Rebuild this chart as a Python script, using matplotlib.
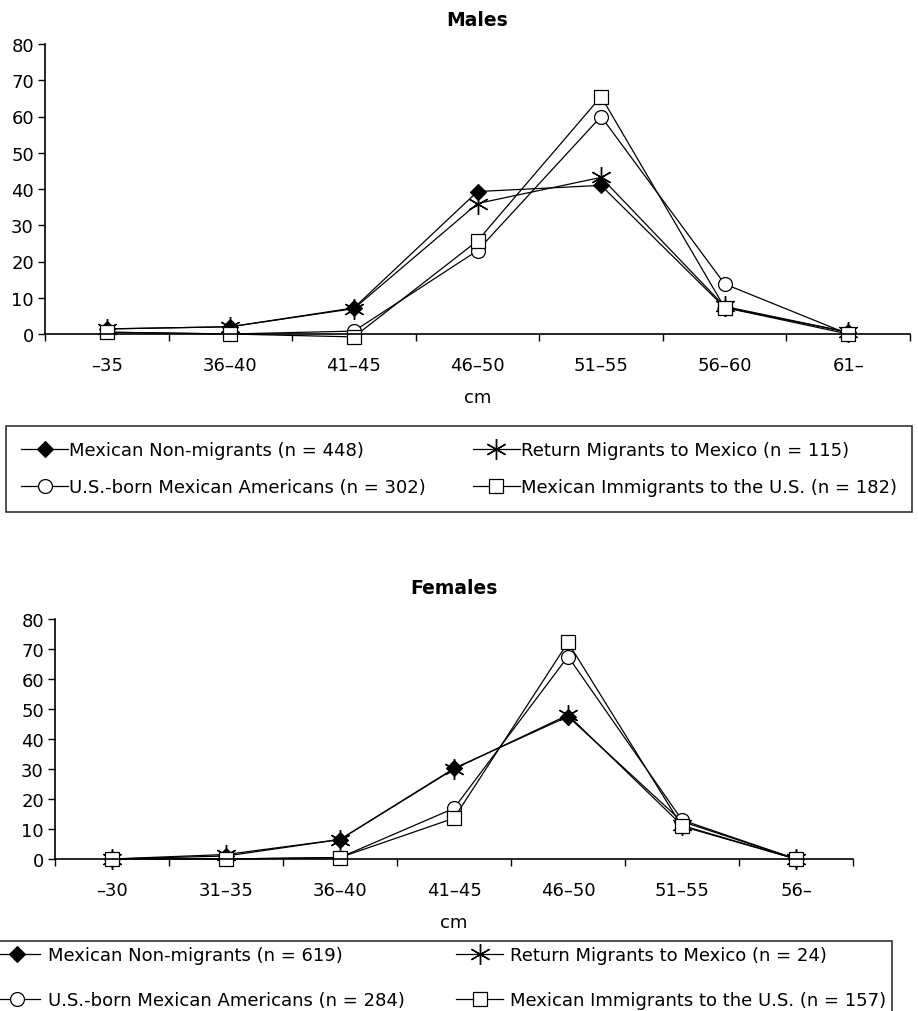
import matplotlib
matplotlib.use("Agg")
import matplotlib.pyplot as plt
from matplotlib.ticker import FixedLocator, NullFormatter

plt.rcParams['font.family'] = ['DejaVu Sans']

# ---------------- data ----------------
male_categories = ["\u201335", "36\u201340", "41\u201345", "46\u201350", "51\u201355", "56\u201360", "61\u2013"]
female_categories = ["\u201330", "31\u201335", "36\u201340", "41\u201345", "46\u201350", "51\u201355", "56\u2013"]

series_names_male = [
    "Mexican Non-migrants (n = 448)",
    "Return Migrants to Mexico (n = 115)",
    "U.S.-born Mexican Americans (n = 302)",
    "Mexican Immigrants to the U.S. (n = 182)",
]
series_names_female = [
    "Mexican Non-migrants (n = 619)",
    "Return Migrants to Mexico (n = 24)",
    "U.S.-born Mexican Americans (n = 284)",
    "Mexican Immigrants to the U.S. (n = 157)",
]

male_nonmigrants = [1.4, 2.0, 7.2, 39.3, 41.0, 7.3, 0.5]
male_return = [1.4, 2.0, 7.0, 36.0, 43.2, 7.6, 0.5]
male_usborn = [0.5, 0.0, 0.8, 23.0, 60.0, 13.8, 0.0]
male_immigrants = [0.5, 0.0, -0.8, 25.7, 65.5, 7.3, 0.0]

female_nonmigrants = [0.0, 1.0, 6.5, 30.2, 47.5, 12.5, 0.0]
female_return = [0.0, 1.5, 6.5, 30.0, 48.0, 11.2, 0.0]
female_usborn = [0.0, 0.0, 0.5, 16.9, 67.5, 13.0, 0.0]
female_immigrants = [0.0, 0.0, 0.5, 13.6, 72.2, 10.9, 0.0]

y_ticks = [0, 10, 20, 30, 40, 50, 60, 70, 80]

# ---------------- styles ----------------
FS = 13
styles = [
    dict(marker='D', markersize=8.5, markerfacecolor='black', markeredgecolor='black', markeredgewidth=0.8),
    dict(marker=(6, 2, 0), markersize=15, markerfacecolor='black', markeredgecolor='black', markeredgewidth=1.0),
    dict(marker='o', markersize=10, markerfacecolor='white', markeredgecolor='black', markeredgewidth=0.9),
    dict(marker='s', markersize=9.5, markerfacecolor='white', markeredgecolor='black', markeredgewidth=0.9),
]

fig = plt.figure(figsize=(9.18, 10.12), dpi=100)
W, H = 918.0, 1012.0


def px_axes(l, t, r, b):
    return fig.add_axes([l / W, 1 - b / H, (r - l) / W, (b - t) / H])


def draw_panel(ax, cats, data, names, title, title_pad):
    x = list(range(len(cats)))
    handles = []
    for vals, st, nm in zip(data, styles, names):
        h, = ax.plot(x, vals, color='black', linewidth=0.9, label=nm, clip_on=False, **st)
        handles.append(h)
    ax.set_xlim(-0.5, len(cats) - 0.5)
    ax.set_ylim(0, 80)
    ax.set_yticks(y_ticks)
    ax.set_xticks(x)
    ax.set_xticklabels(cats, fontsize=FS)
    ax.xaxis.set_minor_locator(FixedLocator([i - 0.5 for i in range(len(cats) + 1)]))
    ax.xaxis.set_minor_formatter(NullFormatter())
    ax.tick_params(axis='x', which='major', length=0, pad=16)
    ax.tick_params(axis='x', which='minor', length=5, width=1.0, direction='out')
    ax.tick_params(axis='y', length=5, width=1.0, direction='out', labelsize=FS, pad=3)
    for s in ['top', 'right']:
        ax.spines[s].set_visible(False)
    for s in ['left', 'bottom']:
        ax.spines[s].set_linewidth(1.2)
    ax.set_xlabel("cm", fontsize=FS, labelpad=10)
    ax.set_title(title, fontsize=13.5, fontweight='bold', pad=title_pad)
    return handles


ax1 = px_axes(45, 45, 910, 335)
h1 = draw_panel(ax1, male_categories,
                [male_nonmigrants, male_return, male_usborn, male_immigrants],
                series_names_male, "Males", 14)

ax2 = px_axes(55, 620, 853, 860)
h2 = draw_panel(ax2, female_categories,
                [female_nonmigrants, female_return, female_usborn, female_immigrants],
                series_names_female, "Females", 19)

# legend order: row1: nonmigrants, return ; row2: usborn, immigrants  (ncol=2 fills column-wise)
order = [0, 2, 1, 3]

leg1 = fig.legend([h1[i] for i in order], [series_names_male[i] for i in order],
                  loc='upper left', bbox_to_anchor=(6 / W, 1 - 427 / H, (912 - 6) / W, 0),
                  bbox_transform=fig.transFigure, mode='expand', ncol=2,
                  fontsize=FS, frameon=True, fancybox=False, edgecolor='black',
                  handlelength=2.6, handletextpad=0.05, borderpad=0.85, labelspacing=1.05,
                  borderaxespad=0, columnspacing=1.5)
leg1.get_frame().set_linewidth(1.2)

leg2 = fig.legend([h2[i] for i in order], [series_names_female[i] for i in order],
                  loc='upper left', bbox_to_anchor=(-12 / W, 1 - 942 / H, (892 + 12) / W, 0),
                  bbox_transform=fig.transFigure, mode='expand', ncol=2,
                  fontsize=FS, frameon=True, fancybox=False, edgecolor='black',
                  handlelength=2.6, handletextpad=0.4, borderpad=0.3, labelspacing=1.5,
                  borderaxespad=0, columnspacing=1.5)
leg2.get_frame().set_linewidth(1.2)

fig.savefig("out.png", dpi=100, facecolor='white')
